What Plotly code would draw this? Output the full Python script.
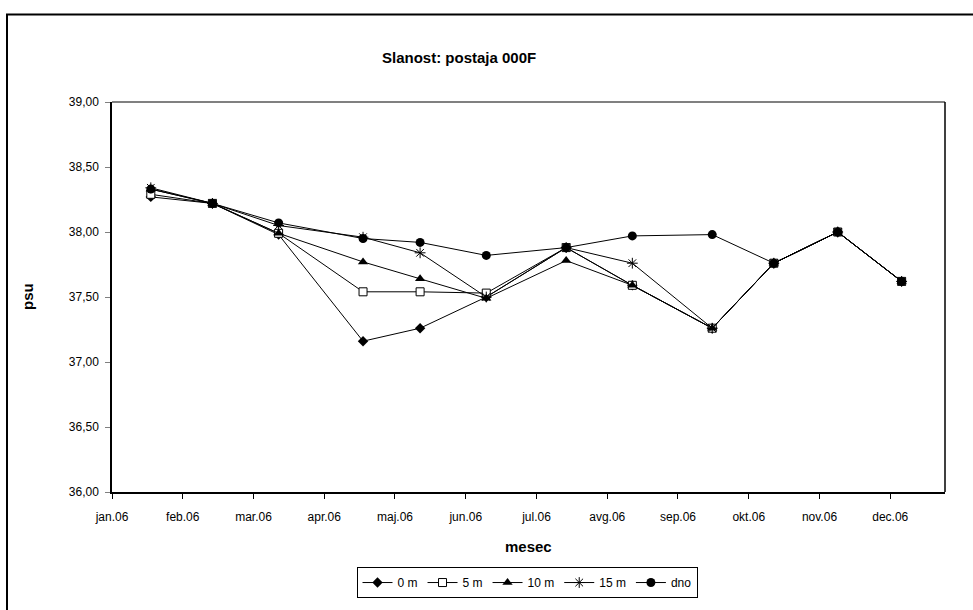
import plotly.graph_objects as go
from datetime import date, timedelta

dates = ["2006-01-18", "2006-02-14", "2006-03-15", "2006-04-21", "2006-05-16",
         "2006-06-14", "2006-07-19", "2006-08-17", "2006-09-21", "2006-10-18",
         "2006-11-15", "2006-12-13"]

s0 = [38.27, 38.22, 37.98, 37.16, 37.26, 37.50, 37.88, 37.59, 37.26, 37.76, 38.00, 37.62]
s5 = [38.29, 38.22, 37.99, 37.54, 37.54, 37.53, 37.88, 37.59, 37.26, 37.76, 38.00, 37.62]
s10 = [38.33, 38.22, 37.99, 37.77, 37.64, 37.49, 37.78, 37.59, 37.26, 37.76, 38.00, 37.62]
s15 = [38.34, 38.22, 38.05, 37.96, 37.84, 37.50, 37.88, 37.76, 37.26, 37.76, 38.00, 37.62]
sdno = [38.33, 38.22, 38.07, 37.95, 37.92, 37.82, 37.88, 37.97, 37.98, 37.76, 38.00, 37.62]

names = ["0 m", "5 m", "10 m", "15 m", "dno"]
tick_labels = ["jan.06", "feb.06", "mar.06", "apr.06", "maj.06", "jun.06",
               "jul.06", "avg.06", "sep.06", "okt.06", "nov.06", "dec.06"]

W, H = 973, 610
L, R, T, B = 112, 945, 102, 494

tick_vals = [(date(2006, 1, 1) + timedelta(days=31 * i)).isoformat() for i in range(len(tick_labels))]

markers = [
    dict(symbol="diamond", size=8, color="black"),
    dict(symbol="square", size=8, color="white", line=dict(color="black", width=1)),
    dict(symbol="triangle-up", size=9, color="black"),
    dict(symbol="asterisk-open", size=9, color="black", line=dict(color="black", width=1)),
    dict(symbol="circle", size=9, color="black"),
]

fig = go.Figure()
for name, vals, mk in zip(names, [s0, s5, s10, s15, sdno], markers):
    fig.add_trace(go.Scatter(x=dates, y=vals, name=name, mode="lines+markers",
                             line=dict(color="black", width=1), marker=mk))

def px(xp):
    return (xp - L) / (R - L)

def py(yp):
    return (B - yp) / (B - T)

fig.update_layout(
    width=W, height=H,
    margin=dict(l=L, r=W - R, t=T, b=H - B),
    paper_bgcolor="white", plot_bgcolor="white",
    separators=",.",
    font=dict(family="Arial, Liberation Sans, sans-serif", size=12, color="black"),
    showlegend=True,
    legend=dict(orientation="h", x=px(527), xanchor="center", y=py(585), yanchor="middle",
                bordercolor="black", borderwidth=1, font=dict(size=12),
                itemwidth=30, tracegroupgap=0),
    shapes=[
        dict(type="rect", xref="paper", yref="paper", x0=px(7), x1=px(1000), y0=py(640), y1=py(14),
             line=dict(color="black", width=2), fillcolor="rgba(0,0,0,0)", layer="below"),
        dict(type="line", xref="paper", yref="paper", x0=0, x1=1, y0=1, y1=1,
             line=dict(color="#808080", width=2)),
        dict(type="line", xref="paper", yref="paper", x0=1, x1=1, y0=0, y1=1,
             line=dict(color="black", width=1.5)),
    ],
    annotations=[
        dict(text="<b>Slanost: postaja 000F</b>", xref="paper", yref="paper",
             x=px(459), y=py(57), showarrow=False, font=dict(size=15), xanchor="center", yanchor="middle"),
        dict(text="<b>psu</b>", xref="paper", yref="paper", x=px(27), y=py(298), textangle=-90,
             showarrow=False, font=dict(size=15), xanchor="center", yanchor="middle"),
        dict(text="<b>mesec</b>", xref="paper", yref="paper", x=px(528), y=py(549),
             showarrow=False, font=dict(size=15), xanchor="center", yanchor="middle"),
    ],
)

fig.update_xaxes(type="date", range=["2006-01-01", "2007-01-01"], tickvals=tick_vals, ticktext=tick_labels,
                 showgrid=False, zeroline=False, showline=True, linecolor="black", linewidth=1.5,
                 ticks="outside", ticklen=5, tickcolor="black", tickfont=dict(size=12),
                 ticklabelstandoff=8)
fig.update_yaxes(range=[36, 39], dtick=0.5, tickformat=".2f",
                 showgrid=False, zeroline=False, showline=True, linecolor="black", linewidth=1.5,
                 ticks="outside", ticklen=5, tickcolor="#808080", tickfont=dict(size=12),
                 ticklabelstandoff=4)

fig.write_html("out.html")
